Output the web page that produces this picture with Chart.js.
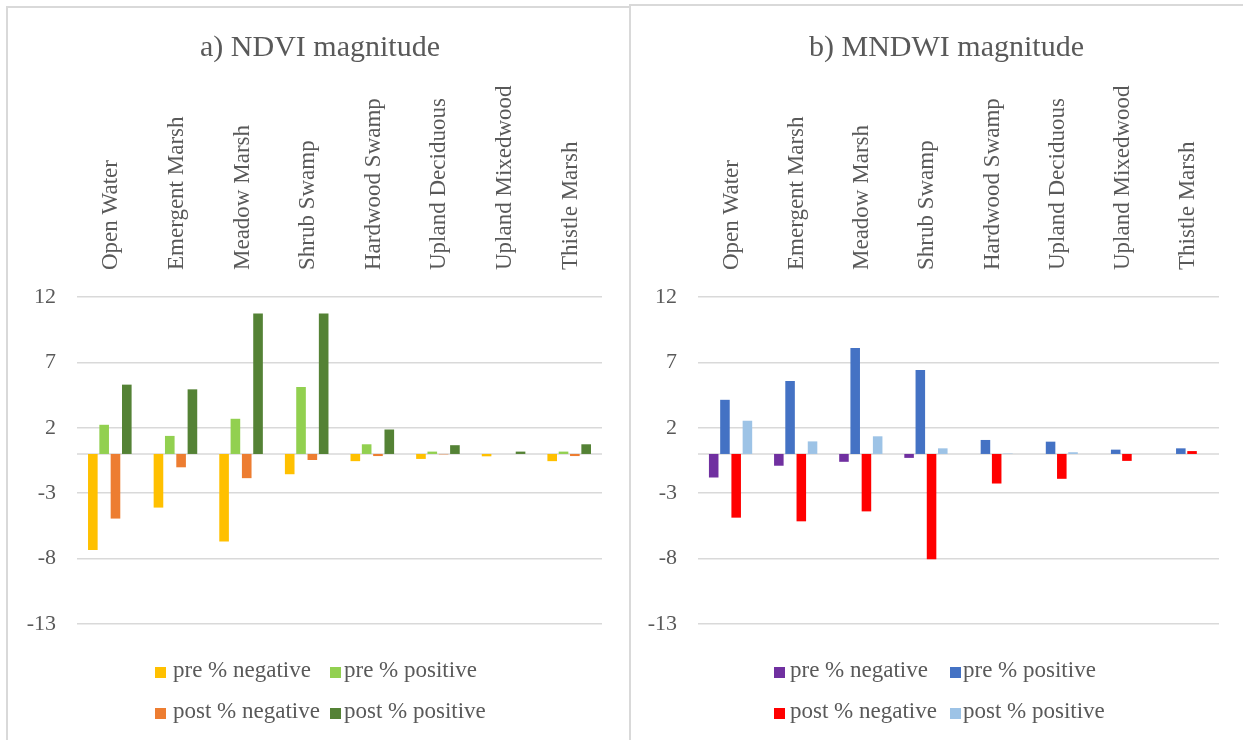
<!DOCTYPE html>
<html>
<head>
<meta charset="utf-8">
<script src="https://cdn.jsdelivr.net/npm/chart.js@4/dist/chart.umd.min.js"></script>
<style>
html,body{margin:0;padding:0;background:#fff;overflow:hidden;width:1243px;height:740px;}
.panel{position:absolute;border:2px solid #d9d9d9;box-sizing:border-box;}
canvas{position:absolute;}
.legbox{position:absolute;width:11px;height:11px;}
.legtxt{position:absolute;font-family:'Liberation Serif','Times New Roman',serif;font-size:23px;line-height:24px;color:#595959;white-space:nowrap;}
</style>
</head>
<body>
<div class="panel" style="left:6px;top:6px;width:625px;height:800px;"></div>
<div class="panel" style="left:629px;top:4px;width:700px;height:800px;"></div>
<canvas id="ndvi" width="620" height="732" style="left:8px;top:8px;"></canvas>
<canvas id="mndwi" width="630" height="732" style="left:632px;top:8px;"></canvas>
<div id="legends"></div>
<script>
// ---- data ----
const categories = ['Open Water','Emergent Marsh','Meadow Marsh','Shrub Swamp','Hardwood Swamp','Upland Deciduous','Upland Mixedwood','Thistle Marsh'];
const seriesNames = ['pre % negative','pre % positive','post % negative','post % positive'];
const yTickValues = [12, 7, 2, -3, -8, -13];

const ndviPreNeg  = [-7.35, -4.10, -6.70, -1.55, -0.55, -0.38, -0.18, -0.55];
const ndviPrePos  = [ 2.23,  1.38,  2.69,  5.12,  0.74,  0.18,  0.00,  0.18];
const ndviPostNeg = [-4.94, -1.02, -1.85, -0.46, -0.16, -0.03,  0.00, -0.16];
const ndviPostPos = [ 5.30,  4.94, 10.73, 10.73,  1.87,  0.67,  0.18,  0.74];

const mndwiPreNeg  = [-1.80, -0.90, -0.60, -0.30,  0.00,  0.00,  0.00,  0.00];
const mndwiPrePos  = [ 4.14,  5.58,  8.10,  6.42,  1.07,  0.94,  0.33,  0.43];
const mndwiPostNeg = [-4.87, -5.15, -4.39, -8.05, -2.26, -1.90, -0.53,  0.22];
const mndwiPostPos = [ 2.54,  0.96,  1.35,  0.43,  0.03,  0.13,  0.00,  0.00];

const ndviColors  = ['#FFC000', '#92D050', '#ED7D31', '#548235'];
const mndwiColors = ['#7030A0', '#4472C4', '#FF0000', '#9DC3E6'];

// ---- drawing ----
const FONT = "'Liberation Serif','Times New Roman',serif";
const TEXT = '#595959';
const GRID = '#d9d9d9';

const zeroLine = {
  id: 'zeroLine',
  beforeDatasetsDraw(chart) {
    const ctx = chart.ctx;
    const y = chart.scales.y.getPixelForValue(0);
    const {left, right} = chart.chartArea;
    ctx.save();
    ctx.strokeStyle = GRID;
    ctx.lineWidth = 1.5;
    ctx.beginPath();
    ctx.moveTo(left, y);
    ctx.lineTo(right, y);
    ctx.stroke();
    ctx.restore();
  }
};

const titleShift = {
  id: 'titleShift',
  afterLayout(chart, args, opts) {
    const t = chart.titleBlock;
    if (t && opts && opts.dx) { t.left += opts.dx; t.right += opts.dx; }
  }
};

function makeChart(id, title, series, colors, geom) {
  new Chart(document.getElementById(id), {
    type: 'bar',
    data: {
      labels: categories,
      datasets: series.map((d, i) => ({
        label: seriesNames[i],
        data: d,
        backgroundColor: colors[i],
        borderWidth: 0,
        barPercentage: 0.85,
        categoryPercentage: 0.69
      }))
    },
    options: {
      responsive: false,
      animation: false,
      devicePixelRatio: 1,
      layout: {padding: {left: 0, right: geom.padRight, top: 0, bottom: geom.padBottom}},
      plugins: {
        legend: {display: false},
        tooltip: {enabled: false},
        titleShift: {dx: geom.titleDx},
        title: {
          display: true,
          text: title,
          color: TEXT,
          font: {family: FONT, size: 30, weight: 'normal'},
          padding: {top: 22, bottom: 0}
        }
      },
      scales: {
        x: {
          position: 'top',
          grid: {display: false, drawTicks: false},
          border: {display: false},
          ticks: {
            autoSkip: false, minRotation: 90, maxRotation: 90,
            padding: 27, color: TEXT, labelOffset: geom.labelOffset,
            font: {family: FONT, size: 23}
          },
          afterFit: s => { s.height = geom.xHeight; }
        },
        y: {
          min: -13, max: 12,
          afterBuildTicks: s => { s.ticks = yTickValues.map(v => ({value: v})); },
          afterFit: s => { s.width = geom.yWidth; },
          grid: {color: GRID, lineWidth: 1.5, drawTicks: false},
          border: {display: false},
          ticks: {padding: 21, color: TEXT, font: {family: FONT, size: 22}}
        }
      }
    },
    plugins: [zeroLine, titleShift]
  });
}

makeChart('ndvi', 'a) NDVI magnitude',
  [ndviPreNeg, ndviPrePos, ndviPostNeg, ndviPostPos], ndviColors,
  {padRight: 26, padBottom: 116, xHeight: 231, yWidth: 69, labelOffset: 29, titleDx: 15});
makeChart('mndwi', 'b) MNDWI magnitude',
  [mndwiPreNeg, mndwiPrePos, mndwiPostNeg, mndwiPostPos], mndwiColors,
  {padRight: 43, padBottom: 116, xHeight: 231, yWidth: 66, labelOffset: 29, titleDx: 21});

// ---- legends (HTML) ----
function makeLegend(colors, boxX, textX, rowsY) {
  const host = document.getElementById('legends');
  seriesNames.forEach((name, i) => {
    const col = i % 2, row = Math.floor(i / 2);
    const cy = rowsY[row];
    const b = document.createElement('div');
    b.className = 'legbox';
    b.style.left = boxX[col] + 'px';
    b.style.top = (cy - 5.5) + 'px';
    b.style.background = colors[i];
    host.appendChild(b);
    const t = document.createElement('div');
    t.className = 'legtxt';
    t.style.left = textX[col] + 'px';
    t.style.top = (cy - 14) + 'px';
    t.textContent = name;
    host.appendChild(t);
  });
}
makeLegend(ndviColors, [155, 330], [173, 344], [672, 713]);
makeLegend(mndwiColors, [774, 950], [790, 963], [672, 713]);
</script>
</body>
</html>
